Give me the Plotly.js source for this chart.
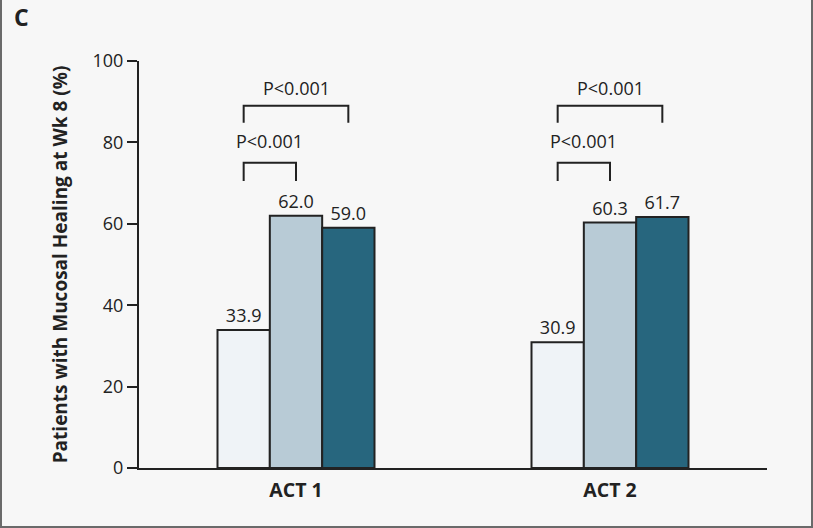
<!DOCTYPE html>
<html>
<head>
<meta charset="utf-8">
<script src="https://cdn.plot.ly/plotly-3.0.1.min.js"></script>
<style>
  body {margin: 0; background: #f7f7f7;}
  #wrap {position: relative; width: 813px; height: 528px;}
  #frame {position: absolute; left: 0; top: 0; width: 813px; height: 528px; box-sizing: border-box;
          border: 2px solid #6a6a6a; border-top: none; pointer-events: none;}
</style>
</head>
<body>
<div id="wrap">
  <div id="graph" style="width:813px;height:528px;"></div>
  <div id="frame"></div>
</div>
<script>
// data
var groups = ['ACT 1', 'ACT 2'];
var placebo = [33.9, 30.9];
var dose5 = [62.0, 60.3];
var dose10 = [59.0, 61.7];
var pInner = ['P<0.001', 'P<0.001'];   // placebo vs 5 mg
var pOuter = ['P<0.001', 'P<0.001'];   // placebo vs 10 mg

var FONT = 'Open Sans, sans-serif';
var INK = '#222222';
var gap = 0.5;
var bw = (1 - gap) / 3;   // width of one bar in category units

function barTrace(vals, color, name) {
    return {
        x: groups,
        y: vals,
        type: 'bar',
        name: name,
        text: vals.map(function (v) { return v.toFixed(1); }),
        textposition: 'outside',
        cliponaxis: false,
        textfont: {family: FONT, size: 18, color: INK},
        marker: {color: color, line: {color: INK, width: 2}},
        hoverinfo: 'none'
    };
}

var data = [
    barTrace(placebo, '#eff3f7', 'Placebo'),
    barTrace(dose5, '#b8cbd6', '5 mg'),
    barTrace(dose10, '#27667e', '10 mg')
];

// brackets over the bars
var shapes = [];
var annotations = [];
function bracket(i, from, to, top, leg, label, labY) {
    var x0 = i + (from - 1) * bw;
    var x1 = i + (to - 1) * bw;
    shapes.push({
        type: 'path', xref: 'x', yref: 'y',
        path: 'M ' + x0 + ' ' + leg + ' L ' + x0 + ' ' + top + ' L ' + x1 + ' ' + top + ' L ' + x1 + ' ' + leg,
        line: {color: INK, width: 2}
    });
    annotations.push({
        x: (x0 + x1) / 2, y: labY, xref: 'x', yref: 'y',
        text: label, showarrow: false,
        font: {family: FONT, size: 18, color: INK}
    });
}
groups.forEach(function (g, i) {
    bracket(i, 0, 1, 75, 70.5, pInner[i], 80.3);
    bracket(i, 0, 2, 89, 84.8, pOuter[i], 93.3);
});

annotations.push({
    xref: 'paper', yref: 'paper', x: -0.202, y: 1.108,
    xanchor: 'left', yanchor: 'middle',
    text: 'C', showarrow: false,
    font: {family: FONT, size: 23, color: INK, weight: 'bold'}
});

var layout = {
    width: 813,
    height: 528,
    margin: {l: 139, r: 46, t: 61, b: 60},
    paper_bgcolor: '#f7f7f7',
    plot_bgcolor: '#f7f7f7',
    showlegend: false,
    barmode: 'group',
    bargap: gap,
    bargroupgap: 0,
    xaxis: {
        type: 'category',
        showline: true, linecolor: INK, linewidth: 2,
        showgrid: false, zeroline: false,
        ticks: '',
        ticklabelstandoff: 4,
        tickfont: {family: FONT, size: 19.5, color: INK, weight: 'bold'}
    },
    yaxis: {
        range: [0, 100],
        dtick: 20,
        showline: true, linecolor: INK, linewidth: 2,
        showgrid: false, zeroline: false,
        ticks: 'outside', ticklen: 10, tickwidth: 2, tickcolor: INK,
        tickfont: {family: FONT, size: 18, color: INK},
        title: {
            text: 'Patients with Mucosal Healing at Wk 8 (%)',
            font: {family: FONT, size: 19, color: INK, weight: 'bold'},
            standoff: 20
        }
    },
    shapes: shapes,
    annotations: annotations
};

Plotly.newPlot('graph', data, layout, {staticPlot: true});
</script>
</body>
</html>
